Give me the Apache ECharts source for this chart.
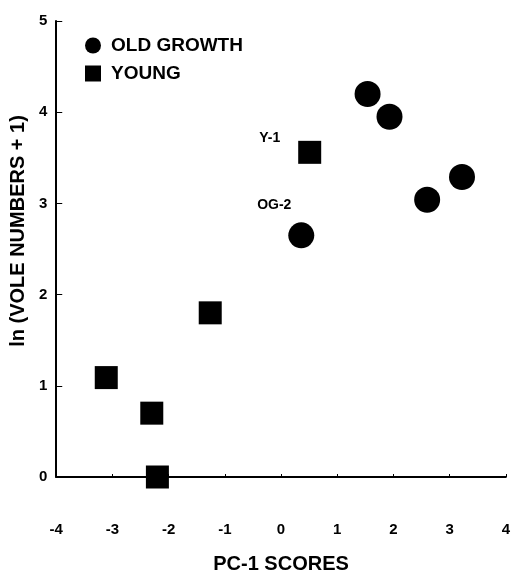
<!DOCTYPE html>
<html>
<head>
<meta charset="utf-8">
<script src="https://cdn.jsdelivr.net/npm/echarts@6/dist/echarts.min.js"></script>
<style>
  html, body { margin: 0; padding: 0; background: #fff; }
  #chart { width: 513px; height: 579px; }
</style>
</head>
<body>
<div id="chart"></div>
<script>
// values
var oldGrowthX = [1.54, 1.93, 3.22, 2.60, 0.36];
var oldGrowthY = [4.20, 3.95, 3.29, 3.04, 2.65];
var oldGrowthNames = ["", "", "", "", "OG-2"];

var youngX = [0.51, -1.26, -3.11, -2.30, -2.20];
var youngY = [3.56, 1.80, 1.09, 0.70, 0.00];
var youngNames = ["Y-1", "", "", "", ""];

var xTicks = [-4, 4, 1];
var yTicks = [0, 5, 1];

var fontFam = "Liberation Sans, Arial, sans-serif";

function buildPoints(xs, ys, names, offset) {
  return xs.map(function (x, i) {
    var p = { name: names[i], value: [x, ys[i]] };
    if (names[i]) {
      p.label = {
        show: true,
        position: "inside",
        offset: offset,
        formatter: "{b}",
        color: "#000",
        fontFamily: fontFam,
        fontWeight: "bold",
        fontSize: 14
      };
    }
    return p;
  });
}

var chart = echarts.init(document.getElementById("chart"));

chart.setOption({
  animation: false,
  backgroundColor: "#fff",
  grid: {
    left: 55,
    right: 3,
    top: 21,
    bottom: 98
  },
  legend: {
    orient: "vertical",
    left: 80,
    top: 31,
    itemWidth: 16,
    itemHeight: 16,
    itemGap: 9,
    data: [
      { name: "OLD GROWTH", icon: "circle" },
      { name: "YOUNG", icon: "rect" }
    ],
    textStyle: {
      color: "#000",
      fontFamily: fontFam,
      fontWeight: "bold",
      fontSize: 19,
      padding: [0, 0, 0, 5]
    }
  },
  xAxis: {
    type: "value",
    min: xTicks[0],
    max: xTicks[1],
    interval: xTicks[2],
    name: "PC-1 SCORES",
    nameLocation: "middle",
    nameGap: 77,
    nameTextStyle: {
      color: "#000",
      fontFamily: fontFam,
      fontWeight: "bold",
      fontSize: 20
    },
    splitLine: { show: false },
    axisLine: { onZero: false, lineStyle: { color: "#000", width: 2 } },
    axisTick: { show: true, inside: true, length: 3, lineStyle: { color: "#000", width: 1 } },
    axisLabel: {
      margin: 45,
      color: "#000",
      fontFamily: fontFam,
      fontWeight: "bold",
      fontSize: 15
    }
  },
  yAxis: {
    type: "value",
    min: yTicks[0],
    max: yTicks[1],
    interval: yTicks[2],
    name: "ln (VOLE NUMBERS + 1)",
    nameLocation: "middle",
    nameGap: 26,
    nameRotate: 90,
    nameTextStyle: {
      color: "#000",
      fontFamily: fontFam,
      fontWeight: "bold",
      fontSize: 20,
      padding: [0, 0, 0, 36]
    },
    splitLine: { show: false },
    axisLine: { onZero: false, lineStyle: { color: "#000", width: 2 } },
    axisTick: { show: true, inside: true, length: 6, lineStyle: { color: "#000", width: 1 } },
    axisLabel: {
      margin: 9,
      color: "#000",
      fontFamily: fontFam,
      fontWeight: "bold",
      fontSize: 15,
      padding: [0, 0, 8, 0]
    }
  },
  series: [
    {
      name: "OLD GROWTH",
      type: "scatter",
      symbol: "circle",
      symbolSize: 26,
      clip: false,
      itemStyle: { color: "#000", opacity: 1 },
      data: buildPoints(oldGrowthX, oldGrowthY, oldGrowthNames, [-27, -30])
    },
    {
      name: "YOUNG",
      type: "scatter",
      symbol: "rect",
      symbolSize: 23,
      clip: false,
      itemStyle: { color: "#000", opacity: 1 },
      data: buildPoints(youngX, youngY, youngNames, [-40, -14])
    }
  ]
});
</script>
</body>
</html>
